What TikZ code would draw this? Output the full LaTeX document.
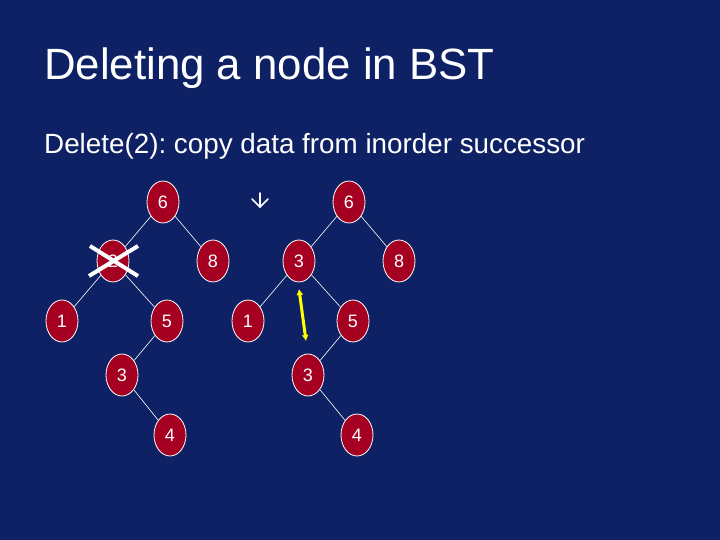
\documentclass[tikz,border=0pt]{standalone}
\usepackage{fontspec}
\setmainfont{Liberation Sans}
\usetikzlibrary{shapes.geometric,arrows.meta}
\definecolor{bg}{RGB}{14,33,100}
\definecolor{nodered}{RGB}{165,0,33}
\definecolor{yel}{RGB}{255,255,0}
\tikzset{
  bst/.style={ellipse, draw=white, fill=nodered, line width=0.8pt, minimum width=32pt, minimum height=42pt, inner sep=0pt, text=white, font=\fontsize{18}{18}\selectfont},
  edge/.style={draw=white, line width=0.6pt},
  cross/.style={draw=white, line width=4pt},
  downarrow/.style={draw=white, line width=1.6pt, line cap=round, line join=miter},
}
\frenchspacing
\begin{document}
\begin{tikzpicture}[x=1pt,y=-1pt]
\useasboundingbox (0,0) rectangle (720,540);
\fill[bg] (0,0) rectangle (720,540);
\node[anchor=base west, text=white, font=\fontsize{43.8}{44}\selectfont, inner sep=0pt] (title) at (44,80) {Deleting a node in BST};
\node[anchor=base west, text=white, font=\fontsize{27.8}{28}\selectfont, inner sep=0pt] (sub) at (44,154) {Delete(2): copy data from inorder successor};
% left tree
\node[bst] (a6) at (163,202) {6};
\node[bst] (a2) at (113,261) {2};
\node[bst] (a8) at (213,261) {8};
\node[bst] (a1) at (62,321) {1};
\node[bst] (a5) at (167,321) {5};
\node[bst] (a3) at (122,375) {3};
\node[bst] (a4) at (170,435) {4};
\draw[edge] (a6) -- (a2);
\draw[edge] (a6) -- (a8);
\draw[edge] (a2) -- (a1);
\draw[edge] (a2) -- (a5);
\draw[edge] (a5) -- (a3);
\draw[edge] (a3) -- (a4);
\coordinate (x1) at (90,246);
\coordinate (x2) at (138,276);
\coordinate (x3) at (89,276);
\coordinate (x4) at (138,246);
\draw[cross] (x1) -- (x2);
\draw[cross] (x3) -- (x4);
% down arrow symbol
\coordinate (d1) at (260,193);
\coordinate (d2) at (260,207);
\coordinate (dl) at (252,199);
\coordinate (dr) at (268,199);
\draw[downarrow] (d1) -- (d2);
\draw[downarrow] (dl) -- (d2) -- (dr);
% right tree
\node[bst] (b6) at (349,202) {6};
\node[bst] (b3) at (299,261) {3};
\node[bst] (b8) at (399,261) {8};
\node[bst] (b1) at (248,321) {1};
\node[bst] (b5) at (353,321) {5};
\node[bst] (b33) at (308,375) {3};
\node[bst] (b4) at (357,435) {4};
\draw[edge] (b6) -- (b3);
\draw[edge] (b6) -- (b8);
\draw[edge] (b3) -- (b1);
\draw[edge] (b3) -- (b5);
\draw[edge] (b5) -- (b33);
\draw[edge] (b33) -- (b4);
\coordinate (y1) at (299,289);
\coordinate (y2) at (306,341);
\draw[yel, line width=3pt, {Latex[length=6pt,width=7pt]}-{Latex[length=6pt,width=7pt]}] (y1) -- (y2);
\end{tikzpicture}
\end{document}
